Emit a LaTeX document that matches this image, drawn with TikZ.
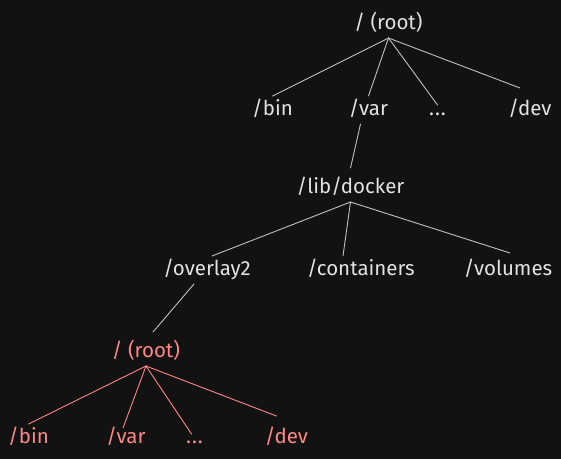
\documentclass[tikz,border=0pt]{standalone}
\usepackage{fontspec}
\setmainfont{Fira Sans}
\usepackage{xcolor}
\usetikzlibrary{positioning}
\definecolor{bgdark}{HTML}{121212}
\definecolor{inklight}{HTML}{E2E2E2}
\definecolor{inkred}{HTML}{FF8787}

\begin{document}
\begin{tikzpicture}[x=1pt, y=-1pt]
\tikzstyle{dir}=[text=inklight, font=\fontsize{20.5}{22}\selectfont, anchor=base, inner sep=0pt, outer sep=5pt, text height=14pt, text depth=4pt]
\tikzstyle{dirred}=[dir, text=inkred]
\tikzstyle{link}=[draw=inklight!85!black, line width=0.9pt, line cap=round]
\tikzstyle{linkred}=[link, draw=inkred]

\fill [bgdark] (0,0) rectangle (561,459);

% host file system
\node [dir] (root) at (388.5,29) {/ (root)};
\node [dir] (bin) at (272.5,115) {/bin};
\node [dir] (var) at (368.5,115) {/var};
\node [dir] (dots) at (437.5,115) {.\kern1pt.\kern1pt.};
\node [dir] (dev) at (530,115) {/dev};

% docker data
\node [dir] (docker) at (350.5,193) {/lib/docker};
\node [dir] (overlay) at (207,275) {/overlay2};
\node [dir] (containers) at (361,275) {/containers};
\node [dir] (volumes) at (508,275) {/volumes};

% container file system
\node [dirred] (croot) at (146,357) {/ (root)};
\node [dirred] (cbin) at (28.5,443) {/bin};
\node [dirred] (cvar) at (126,443) {/var};
\node [dirred] (cdots) at (194.5,443) {.\kern1pt.\kern1pt.};
\node [dirred] (cdev) at (286.5,443) {/dev};

\draw [link] (root.south) -- (bin.north);
\draw [link] (root.south) -- (var.north);
\draw [link] (root.south) -- ([yshift=-9pt]dots.north);
\draw [link] (root.south) -- ([xshift=-10pt,yshift=8pt]dev.north);

\draw [link] ([xshift=-8pt]var.south) -- ([yshift=6pt]docker.north);

\draw [link] (docker.south) -- ([xshift=5pt]overlay.north);
\draw [link] (docker.south) -- ([xshift=-18pt]containers.north);
\draw [link] (docker.south) -- ([xshift=2pt,yshift=3pt]volumes.north);

\draw [link] ([xshift=-13pt]overlay.south) -- ([xshift=7pt,yshift=6pt]croot.north);

\draw [linkred] (croot.south) -- (cbin.north);
\draw [linkred] (croot.south) -- ([xshift=-3pt,yshift=-4pt]cvar.north);
\draw [linkred] (croot.south) -- ([xshift=-3pt,yshift=-10pt]cdots.north);
\draw [linkred] (croot.south) -- ([xshift=-10pt,yshift=8pt]cdev.north);

\end{tikzpicture}
\end{document}
